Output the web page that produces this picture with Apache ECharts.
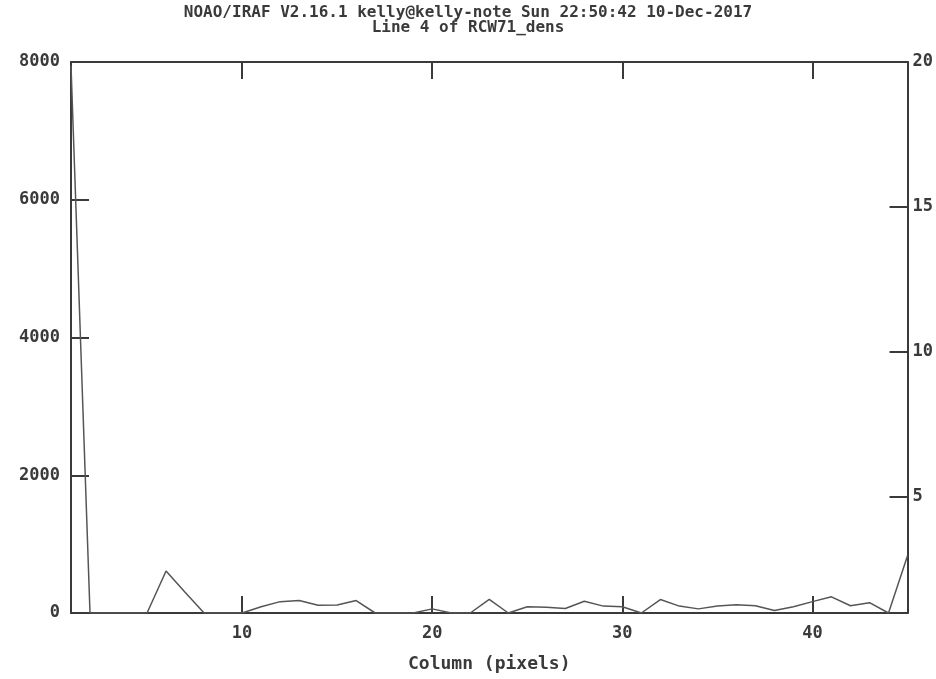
<!DOCTYPE html>
<html>
<head>
<meta charset="utf-8">
<script src="https://cdn.jsdelivr.net/npm/echarts@6/dist/echarts.min.js"></script>
<style>html,body{margin:0;padding:0;background:#fff;}#c{width:936px;height:679px;}</style>
</head>
<body>
<div id="c"></div>
<script>
var titleLine1 = "NOAO/IRAF V2.16.1 kelly@kelly-note Sun 22:50:42 10-Dec-2017";
var titleLine2 = "Line 4 of RCW71_dens";
var xAxisName = "Column (pixels)";
var columns = [1,2,3,4,5,6,7,8,9,10,11,12,13,14,15,16,17,18,19,20,21,22,23,24,25,26,27,28,29,30,31,32,33,34,35,36,37,38,39,40,41,42,43,44,45];
var values  = [7950,0,0,0,0,610,300,0,0,0,90,165,180,112,115,180,0,0,0,60,0,0,198,0,90,85,65,170,100,90,0,195,100,60,100,120,105,35,90,165,235,105,150,0,830];
var xTicks = [10,20,30,40];
var leftTicks = [0,2000,4000,6000,8000];
var rightTicks = [5,10,15,20];

var pts = columns.map(function(c,i){ return [c, values[i]]; });
var font = "DejaVu Sans Mono";
var txt = {fontFamily: font, fontWeight: "bold", fontSize: 17, color: "#3a3a3a"};
var axisLine = {show: true, lineStyle: {color: "#3a3a3a", width: 2}};
var tickStyle = {color: "#3a3a3a", width: 2};
function plain(v){ return String(v); }

var chart = echarts.init(document.getElementById('c'), null, {renderer: 'canvas'});
chart.setOption({
  backgroundColor: "#fff",
  animation: false,
  title: [
    {text: titleLine1, left: "center", top: 5, padding: 0, textStyle: Object.assign({}, txt, {fontSize: 16, lineHeight: 16})},
    {text: titleLine2, left: "center", top: 20, padding: 0, textStyle: Object.assign({}, txt, {fontSize: 16, lineHeight: 16})}
  ],
  grid: {left: 71, right: 28, top: 62, bottom: 66, containLabel: false},
  xAxis: [
    {type: "value", min: 1, max: 45, position: "bottom",
     name: xAxisName, nameLocation: "middle", nameGap: 42, nameTextStyle: Object.assign({}, txt, {fontSize: 18}),
     axisLine: axisLine, splitLine: {show: false},
     axisTick: {show: true, inside: true, length: 17, lineStyle: tickStyle, customValues: xTicks},
     axisLabel: Object.assign({margin: 12, customValues: xTicks, formatter: plain}, txt)},
    {type: "value", min: 1, max: 45, position: "top",
     axisLine: axisLine, splitLine: {show: false},
     axisTick: {show: true, inside: true, length: 17, lineStyle: tickStyle, customValues: xTicks},
     axisLabel: {show: false}}
  ],
  yAxis: [
    {type: "value", min: 0, max: 8000, interval: 2000, position: "left",
     axisLine: axisLine, splitLine: {show: false},
     axisTick: {show: true, inside: true, length: 18, lineStyle: tickStyle},
     axisLabel: Object.assign({margin: 11, formatter: plain}, txt)},
    {type: "value", min: 1, max: 20, position: "right",
     axisLine: axisLine, splitLine: {show: false},
     axisTick: {show: true, inside: true, length: 18, lineStyle: tickStyle, customValues: rightTicks},
     axisLabel: Object.assign({margin: 5, customValues: rightTicks, formatter: plain}, txt)}
  ],
  series: [
    {type: "line", xAxisIndex: 0, yAxisIndex: 0, data: pts, showSymbol: false, symbol: "none",
     lineStyle: {color: "#555", width: 1.5}, silent: true}
  ]
});
</script>
</body>
</html>
